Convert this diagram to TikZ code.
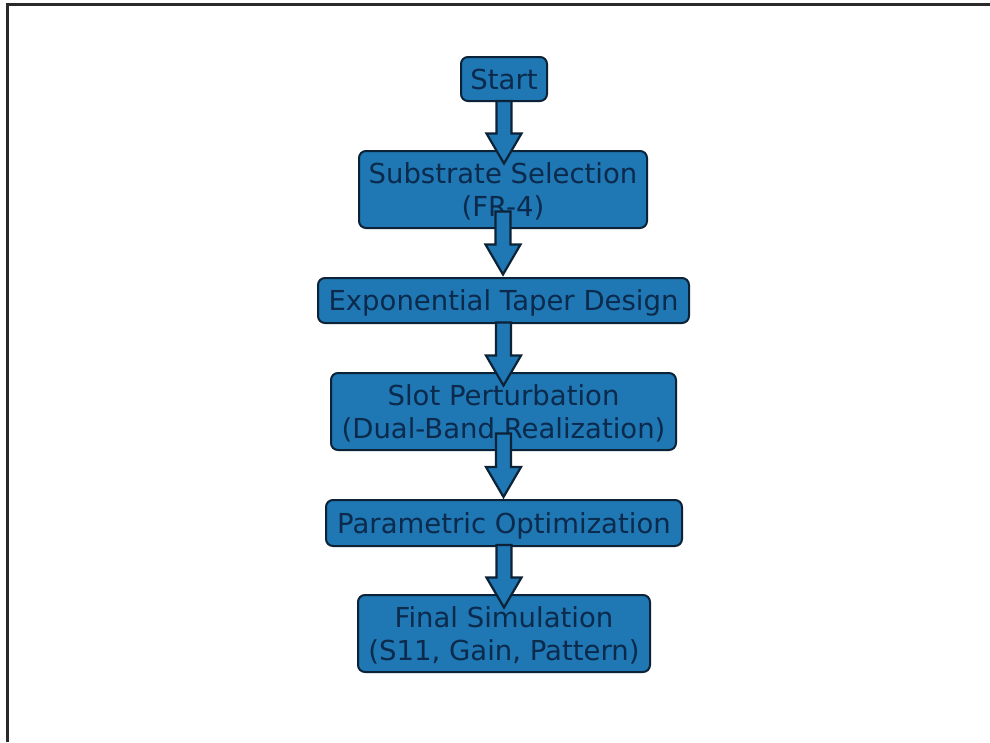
\documentclass[tikz,border=0pt]{standalone}
\usepackage{fontspec}
\setmainfont{DejaVu Sans}
\usetikzlibrary{calc}
\definecolor{boxfill}{HTML}{1F77B4}
\definecolor{boxedge}{HTML}{0C2236}
\definecolor{boxtext}{HTML}{0B2A4C}
\definecolor{framecol}{HTML}{2A2A2A}
\tikzset{
  stepbox/.style={draw=boxedge, fill=boxfill, line width=2pt, rounded corners=7pt,
    inner sep=0pt, align=center, text=boxtext, text depth=0pt,
    font=\fontsize{27.5}{33}\selectfont},
  fatarrowstyle/.style={draw=boxedge, fill=boxfill, line width=2.2pt, line join=miter},
}
\newcommand\fatarrow[2]{%
  \draw[fatarrowstyle] let \p1=(#1.center), \p2=(#2.center) in
    (\x1-7.5pt,\y1-22pt) -- (\x1-7.5pt,\y2+56pt) -- (\x1-17.5pt,\y2+56pt)
    -- (\x1,\y2+26pt) -- (\x1+17.5pt,\y2+56pt) -- (\x1+7.5pt,\y2+56pt)
    -- (\x1+7.5pt,\y1-22pt) -- cycle;}
\begin{document}
\begin{tikzpicture}[x=1pt,y=-1pt]
\useasboundingbox (0,0) rectangle (990,742);
\fill[white] (0,0) rectangle (990,742);
\draw[framecol, line width=2.4pt] (7.5,742) -- (7.5,4.5) -- (990,4.5);
\node[stepbox, minimum width=86pt, minimum height=44pt] (start) at (504,79) {Start};
\node[stepbox, minimum width=288pt, minimum height=77pt] (sub) at (503,189.5) {Substrate Selection\\(FR-4)};
\node[stepbox, minimum width=371pt, minimum height=45pt] (exp) at (503.5,300.5) {Exponential Taper Design};
\node[stepbox, minimum width=345pt, minimum height=77pt] (slot) at (503.5,411.5) {Slot Perturbation\\(Dual-Band Realization)};
\node[stepbox, minimum width=356pt, minimum height=46pt] (par) at (504,523) {Parametric Optimization};
\node[stepbox, minimum width=292pt, minimum height=77pt] (fin) at (504,633.5) {Final Simulation\\(S11, Gain, Pattern)};
\fatarrow{start}{sub}
\fatarrow{sub}{exp}
\fatarrow{exp}{slot}
\fatarrow{slot}{par}
\fatarrow{par}{fin}
\end{tikzpicture}
\end{document}
